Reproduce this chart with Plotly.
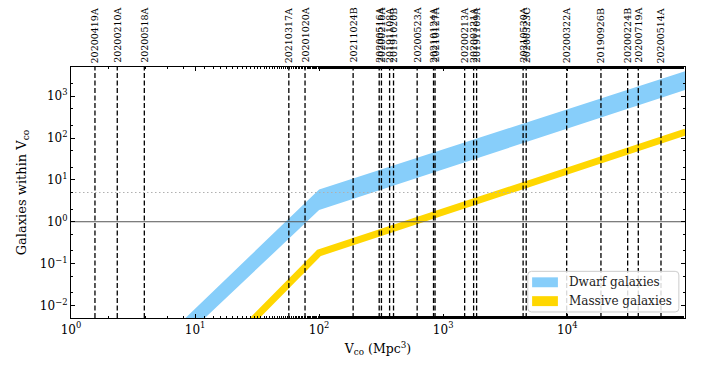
import math
import plotly.graph_objects as go

# Event localisation volumes (comoving, Mpc^3)
event_names = [
    "20200419A", "20200210A", "20200518A", "20210317A", "20201020A",
    "20211024B", "20200516A", "20200216A", "20191108A", "20191020B",
    "20200523A", "20210124A", "20210127A", "20200213A", "20200321A",
    "20191109A", "20210530A", "20200323C", "20200322A", "20190926B",
    "20200224B", "20200719A", "20200514A",
]
event_volumes = [
    1.56, 2.36, 3.9, 57, 77,
    188, 305, 318, 370, 398,
    617, 836, 860, 1490, 1760,
    1860, 4410, 4670, 9900, 18700,
    30700, 37400, 57000,
]

# Expected galaxy counts vs. volume
volume_grid = [5, 100, 90000]
dwarf_low = [4.3e-4, 1.9, 1430]
dwarf_high = [1.15e-3, 5.9, 4000]
massive_vol = [10, 100, 90000]
massive_count = [1.8e-4, 0.18, 140]

legend_names = ["Dwarf galaxies", "Massive galaxies"]

x_range = [1, 89000]
y_range = [5e-3, 5e3]
x_tickvals = [1, 10, 100, 1000, 10000]
x_ticktext = ["10<sup>0</sup>", "10<sup>1</sup>", "10<sup>2</sup>",
              "10<sup>3</sup>", "10<sup>4</sup>"]
y_tickvals = [1e-2, 1e-1, 1, 10, 100, 1000]
y_ticktext = ["10<sup>−2</sup>", "10<sup>−1</sup>", "10<sup>0</sup>",
              "10<sup>1</sup>", "10<sup>2</sup>", "10<sup>3</sup>"]

FONT = "DejaVu Serif"
BLUE = "#87CEFA"
GOLD = "#FFD700"

fig = go.Figure()

# Dwarf band
fig.add_trace(go.Scatter(x=volume_grid, y=dwarf_low, mode="lines",
                         line=dict(width=0, color=BLUE), showlegend=False,
                         hoverinfo="skip"))
fig.add_trace(go.Scatter(x=volume_grid, y=dwarf_high, mode="lines",
                         line=dict(width=0, color=BLUE), fill="tonexty",
                         fillcolor=BLUE, name=legend_names[0], showlegend=False))

# Massive galaxies line
fig.add_trace(go.Scatter(x=massive_vol, y=massive_count, mode="lines",
                         line=dict(width=7, color=GOLD), name=legend_names[1],
                         showlegend=False))

# Reference counts: N = 1 and N = 5
fig.add_trace(go.Scatter(x=x_range, y=[1, 1], mode="lines",
                         line=dict(color="#555555", width=1), showlegend=False))
fig.add_trace(go.Scatter(x=x_range, y=[5, 5], mode="lines",
                         line=dict(color="#b0b0b0", width=1, dash="1.5px,2.5px"),
                         showlegend=False))

# Event volumes as dashed verticals with rotated names above the frame
for name, vol in zip(event_names, event_volumes):
    fig.add_trace(go.Scatter(x=[vol, vol], y=y_range, mode="lines",
                             line=dict(color="black", width=1.3, dash="5px,2.5px"),
                             showlegend=False, hoverinfo="skip"))
    fig.add_annotation(x=math.log10(vol), y=1, xref="x", yref="paper",
                       text=name, showarrow=False, textangle=-90,
                       xanchor="center", yanchor="bottom", yshift=2,
                       font=dict(family=FONT, size=9.5, color="black"))

# Legend drawn as a framed box with colour patches (paper coordinates)
box = dict(x0=0.744, x1=0.990, y0=0.024, y1=0.186)
r = 0.006
path = (f"M{box['x0']+r},{box['y0']} L{box['x1']-r},{box['y0']} "
        f"Q{box['x1']},{box['y0']} {box['x1']},{box['y0']+r*2.4} "
        f"L{box['x1']},{box['y1']-r*2.4} Q{box['x1']},{box['y1']} {box['x1']-r},{box['y1']} "
        f"L{box['x0']+r},{box['y1']} Q{box['x0']},{box['y1']} {box['x0']},{box['y1']-r*2.4} "
        f"L{box['x0']},{box['y0']+r*2.4} Q{box['x0']},{box['y0']} {box['x0']+r},{box['y0']} Z")
fig.add_shape(type="path", path=path, xref="paper", yref="paper",
              fillcolor="rgba(255,255,255,0.85)", line=dict(color="#cccccc", width=1),
              layer="above")
patch_rows = [(0.1225, 0.162), (0.0474, 0.087)]
for (py0, py1), colour, label in zip(patch_rows, [BLUE, GOLD], legend_names):
    fig.add_shape(type="rect", xref="paper", yref="paper",
                  x0=0.751, x1=0.793, y0=py0, y1=py1,
                  fillcolor=colour, line=dict(width=0), layer="above")
    fig.add_annotation(x=0.808, y=(py0 + py1) / 2, xref="paper", yref="paper",
                       text=label, showarrow=False, xanchor="left", yanchor="middle",
                       font=dict(family=FONT, size=12, color="#222222"))

axis_common = dict(
    type="log", showgrid=False, zeroline=False,
    showline=True, linecolor="black", linewidth=1.2, mirror="allticks",
    ticks="inside", ticklen=4, tickwidth=1, tickcolor="black",
    minor=dict(ticks="inside", ticklen=2, tickwidth=0.8, tickcolor="black",
               showgrid=False),
    tickfont=dict(family=FONT, size=12, color="black"),
)

fig.update_xaxes(**axis_common,
                 range=[math.log10(x_range[0]), math.log10(x_range[1])],
                 tickvals=x_tickvals, ticktext=x_ticktext,
                 title=dict(text="V<sub>co</sub> (Mpc<sup>3</sup>)",
                            font=dict(family=FONT, size=12.5, color="black"),
                            standoff=8))
fig.update_yaxes(**axis_common,
                 range=[math.log10(y_range[0]), math.log10(y_range[1])],
                 tickvals=y_tickvals, ticktext=y_ticktext,
                 title=dict(text="Galaxies within V<sub>co</sub>",
                            font=dict(family=FONT, size=13, color="black"),
                            standoff=10))

fig.update_layout(
    width=701, height=365,
    margin=dict(l=71, r=16, t=67, b=45),
    paper_bgcolor="white", plot_bgcolor="white",
    font=dict(family=FONT, color="black"),
    showlegend=False,
)

fig.write_html("out.html")
